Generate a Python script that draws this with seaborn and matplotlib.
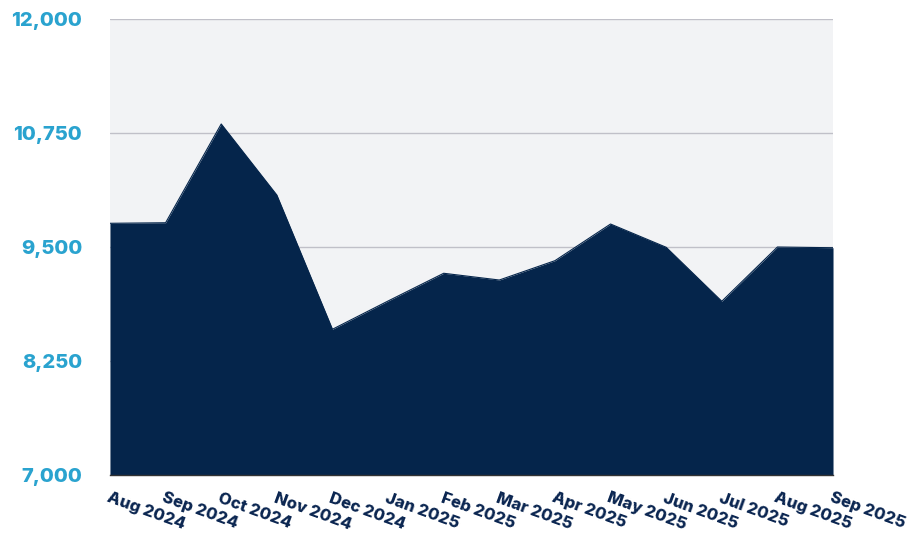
import matplotlib
matplotlib.use("Agg")
import matplotlib.pyplot as plt
import seaborn as sns
import pandas as pd

months = ["Aug 2024", "Sep 2024", "Oct 2024", "Nov 2024", "Dec 2024", "Jan 2025", "Feb 2025",
          "Mar 2025", "Apr 2025", "May 2025", "Jun 2025", "Jul 2025", "Aug 2025", "Sep 2025"]
values = [9760, 9766, 10849, 10070, 8598, 8908, 9212, 9138, 9350, 9752, 9497, 8905, 9500, 9492]
y_ticks = [7000, 8250, 9500, 10750, 12000]

df = pd.DataFrame({"month": months, "value": values})
df["pos"] = range(len(months))

sns.set_theme(style="white")
plt.rcParams["font.family"] = ["Inter", "DejaVu Sans"]

fig = plt.figure(figsize=(9.12, 5.56), dpi=100)
ax = fig.add_axes([0.1206, 0.1457, 0.7928, 0.8201])
ax.set_facecolor("#f2f3f5")

sns.lineplot(data=df, x="pos", y="value", ax=ax, color="#05254b", linewidth=0.8)
ax.fill_between(df["pos"], y_ticks[0], df["value"], color="#05254b", linewidth=0)

ax.set_xlim(0, len(months) - 1)
ax.set_ylim(y_ticks[0], y_ticks[-1])
ax.set_yticks(y_ticks)
ax.set_yticklabels([f"{v:,}" for v in y_ticks], fontsize=14.5, fontweight="heavy", color="#2aa3cf")
ax.set_xticks(df["pos"])
ax.set_xticklabels(months, fontsize=12, fontweight="heavy", color="#0a2550",
                   rotation=-20, ha="left", va="top", rotation_mode="anchor")
ax.tick_params(axis="y", length=0, pad=20)
ax.tick_params(axis="x", length=0, pad=11)

ax.grid(axis="y", color="#c0c0c8", linewidth=1)
ax.set_axisbelow(True)
for s in ["top", "left", "right"]:
    ax.spines[s].set_visible(False)
ax.spines["bottom"].set_color("#333333")
ax.spines["bottom"].set_linewidth(1)
ax.set_xlabel("")
ax.set_ylabel("")

fig.savefig("out.png", dpi=100)
